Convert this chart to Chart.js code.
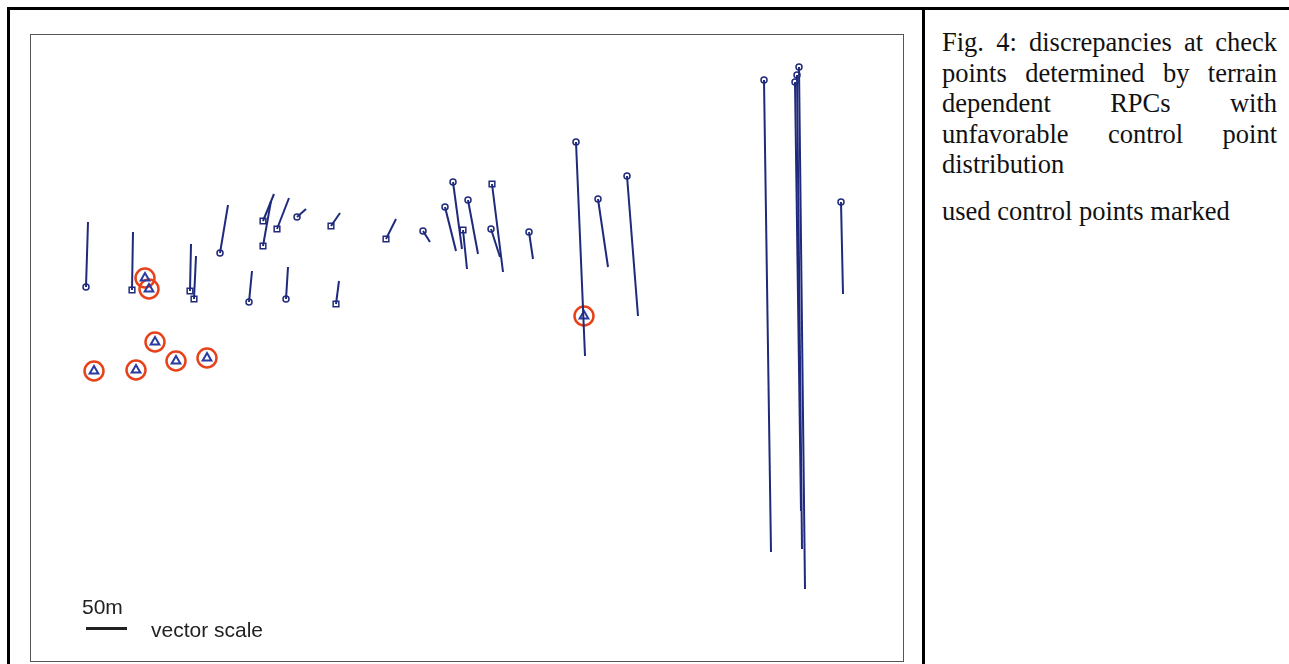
<!DOCTYPE html>
<html>
<head>
<meta charset="utf-8">
<script src="https://cdn.jsdelivr.net/npm/chart.js@4"></script>
<style>
    html, body { margin: 0; padding: 0; background: #fff; overflow: hidden; }
    body { width: 1289px; height: 664px; position: relative; }
    .frame { position: absolute; left: 7px; top: 7px; width: 1400px; height: 800px;
             border-left: 3px solid #000; border-top: 3px solid #000; }
    .divider { position: absolute; left: 922px; top: 7px; width: 3px; height: 700px; background: #000; }
    .plotBox { position: absolute; left: 30px; top: 34px; width: 872px; height: 626px;
               border: 1.5px solid #555; }
    .plotWrap { position: absolute; left: 31px; top: 35px; width: 872px; height: 626px; }
    .caption { position: absolute; left: 942px; top: 27px; width: 335px;
               font-family: "Liberation Serif", "Times New Roman", serif; font-size: 26.5px;
               line-height: 30.5px; color: #111; text-align: justify; }
    .caption p { margin: 0; }
    .caption p.second { margin-top: 16px; }
    .scaleLabel { position: absolute; font-family: "Liberation Sans", Arial, sans-serif;
                  font-size: 21px; color: #222; }
    .scaleBar { position: absolute; left: 86px; top: 627px; width: 41px; height: 3px; background: #222; }
</style>
</head>
<body>
<div class="frame"></div>
<div class="divider"></div>
<div class="plotBox"></div>
<div class="plotWrap"><canvas id="myChart"></canvas></div>
<div class="scaleLabel" style="left:82px; top:595px;">50m</div>
<div class="scaleBar"></div>
<div class="scaleLabel" style="left:151px; top:618px;">vector scale</div>
<div class="caption">
    <p>Fig. 4: discrepancies at check points determined by terrain dependent RPCs with unfavorable control point distribution</p>
    <p class="second">used control points marked</p>
</div>

<script>
// check points: position (easting, northing in plot units) and discrepancy vector
const checkX  = [55, 101, 159, 163, 189, 232, 232, 246, 266, 300, 218, 255, 305, 355, 392,
                 422, 414, 432, 437, 461, 460, 498, 545, 567, 596, 733, 768, 766, 764, 810];
const checkY  = [374, 371, 370, 362, 408, 440, 415, 432, 444, 435, 359, 362, 357, 422, 430,
                 479, 454, 431, 461, 477, 432, 429, 519, 462, 485, 581, 594, 586, 579, 459];
const checkDX = [2, 1, 1, 2, 8, 11, 8, 12, 9, 9, 3, 2, 3, 10, 7,
                 9, 11, 4, 10, 11, 9, 4, 9, 10, 11, 7, 6, 5, 6, 2];
const checkDY = [65, 58, 47, 43, 48, 27, 45, 31, 8, 13, 31, 32, 23, 20, -11,
                 -67, -44, -39, -54, -88, -28, -27, -214, -68, -140, -472, -522, -474, -429, -92];
// marker shape of each check point (c = circle, s = square)
const checkShape = ['c','s','s','s','c','s','s','s','c','s','c','c','s','s','c',
                    'c','c','s','c','s','c','c','c','c','c','c','c','c','c','c'];

// control points used for the RPC adjustment
const controlX = [114, 118, 124, 63, 105, 145, 176, 553];
const controlY = [383, 372, 319, 290, 291, 300, 303, 345];

const VECTOR_COLOR = '#1f2a7c';

document.addEventListener('DOMContentLoaded', () => {
    const datasets = [];

    // one line per discrepancy vector
    checkX.forEach((x, i) => {
        datasets.push({
            type: 'line',
            data: [{x: x, y: checkY[i]}, {x: x + checkDX[i], y: checkY[i] + checkDY[i]}],
            borderColor: VECTOR_COLOR,
            borderWidth: 2,
            pointRadius: 0,
            fill: false
        });
    });

    datasets.push({
        label: 'check points',
        data: checkX.map((x, i) => ({x: x, y: checkY[i]})),
        pointStyle: checkShape.map(s => s === 's' ? 'rect' : 'circle'),
        pointRadius: checkShape.map(s => s === 's' ? 4 : 3),
        backgroundColor: '#ffffff',
        borderColor: VECTOR_COLOR,
        borderWidth: 1.5
    });

    datasets.push({
        label: 'control points',
        data: controlX.map((x, i) => ({x: x, y: controlY[i]})),
        pointStyle: 'triangle',
        pointRadius: 5,
        backgroundColor: 'rgba(255,255,255,0)',
        borderColor: '#2b3a9e',
        borderWidth: 2
    });

    datasets.push({
        label: 'control rings',
        data: controlX.map((x, i) => ({x: x, y: controlY[i]})),
        pointStyle: 'circle',
        pointRadius: 9.5,
        backgroundColor: 'rgba(255,255,255,0)',
        borderColor: '#e8421a',
        borderWidth: 2.5
    });

    const ctx = document.getElementById('myChart').getContext('2d');
    window.myGraph = new Chart(ctx, {
        type: 'scatter',
        data: { datasets: datasets },
        options: {
            responsive: true,
            maintainAspectRatio: false,
            animation: false,
            layout: { padding: 0, autoPadding: false },
            scales: {
                x: { type: 'linear', min: 0, max: 872, display: false },
                y: { type: 'linear', min: 0, max: 626, display: false }
            },
            plugins: {
                legend: { display: false },
                tooltip: { enabled: false }
            }
        }
    });
});
</script>
</body>
</html>
